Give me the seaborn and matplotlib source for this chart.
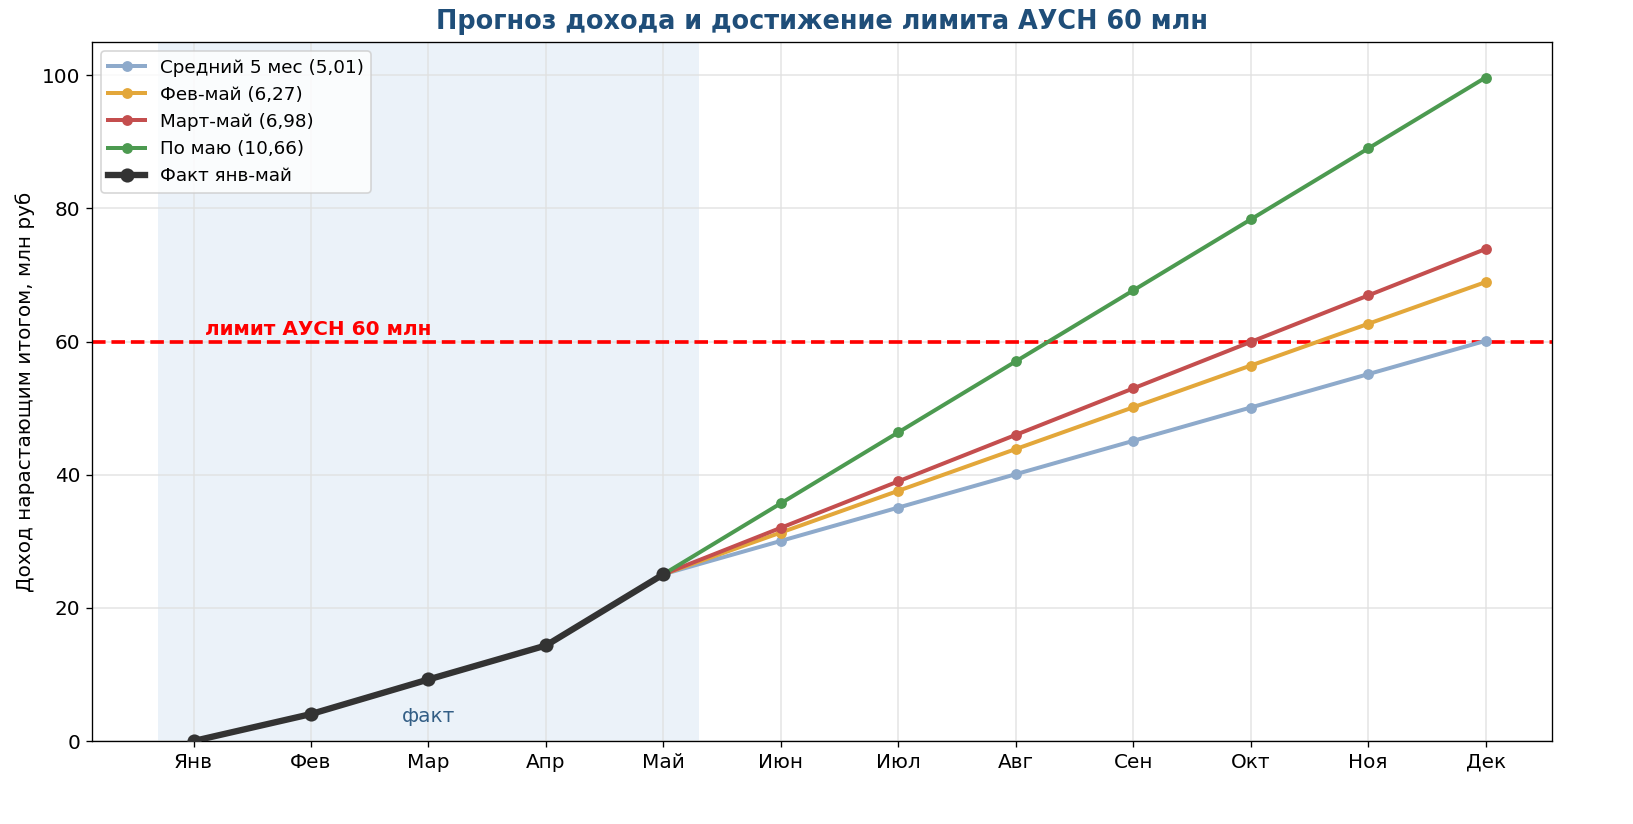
import pandas as pd
import seaborn as sns
import matplotlib.pyplot as plt

# Месяцы
months = ['Янв', 'Фев', 'Мар', 'Апр', 'Май', 'Июн', 'Июл', 'Авг', 'Сен', 'Окт', 'Ноя', 'Дек']

# Факт янв-май (накопительно, млн руб)
fact = [0.0, 4.05, 9.25, 14.35, 25.05]

# Прогнозы с мая по декабрь
avg5 = [25.05, 30.06, 35.07, 40.08, 45.09, 50.10, 55.11, 60.12]
feb_may = [25.05, 31.32, 37.59, 43.86, 50.13, 56.40, 62.67, 68.94]
mar_may = [25.05, 32.03, 39.01, 45.99, 52.97, 59.95, 66.93, 73.91]
po_mayu = [25.05, 35.71, 46.37, 57.03, 67.69, 78.35, 89.01, 99.67]

limit = 60

series = [
    ('Средний 5 мес (5,01)', avg5, '#8eaacb'),
    ('Фев-май (6,27)', feb_may, '#e3a73a'),
    ('Март-май (6,98)', mar_may, '#c44e4e'),
    ('По маю (10,66)', po_mayu, '#4c9a50'),
]

fig, ax = plt.subplots(figsize=(1633 / 120, 824 / 120), dpi=120)
fig.subplots_adjust(left=0.0563, right=0.9504, top=0.949, bottom=0.1007)

# Зона факта
ax.axvspan(-0.3, 4.3, color='#dce9f5', alpha=0.55, lw=0, zorder=0)

for name, vals, color in series:
    df = pd.DataFrame({'x': range(4, 4 + len(vals)), 'y': vals})
    sns.lineplot(data=df, x='x', y='y', ax=ax, color=color, marker='o', markersize=6.5,
                 markeredgewidth=0, linewidth=2.4, label=name, zorder=3)

df_fact = pd.DataFrame({'x': range(len(fact)), 'y': fact})
sns.lineplot(data=df_fact, x='x', y='y', ax=ax, color='#333333', marker='o', markersize=8.5,
             markeredgewidth=0, linewidth=3.8, label='Факт янв-май', zorder=4)

# Лимит
ax.axhline(limit, color='red', linestyle='--', linewidth=2.2, zorder=2)
ax.text(0.1, limit + 0.4, 'лимит АУСН 60 млн', color='red', fontweight='bold',
        fontsize=12, va='bottom', ha='left')
ax.text(2, 2.3, 'факт', color='#1f4e79', fontsize=12, ha='center', va='bottom', alpha=0.9)

ax.set_xticks(range(len(months)))
ax.set_xticklabels(months, fontsize=12)
ax.tick_params(axis='y', labelsize=12)
ax.set_ylim(0, 105)
ax.set_xlabel('')
ax.set_ylabel('Доход нарастающим итогом, млн руб', fontsize=12)
ax.set_title('Прогноз дохода и достижение лимита АУСН 60 млн', fontsize=15.3,
             fontweight='bold', color='#1f4e79', pad=8)
ax.grid(True, color='#e0e0e0', linewidth=1, alpha=0.8)
ax.set_axisbelow(True)
ax.legend(loc='upper left', fontsize=11)

fig.savefig('out.png', dpi=120)
